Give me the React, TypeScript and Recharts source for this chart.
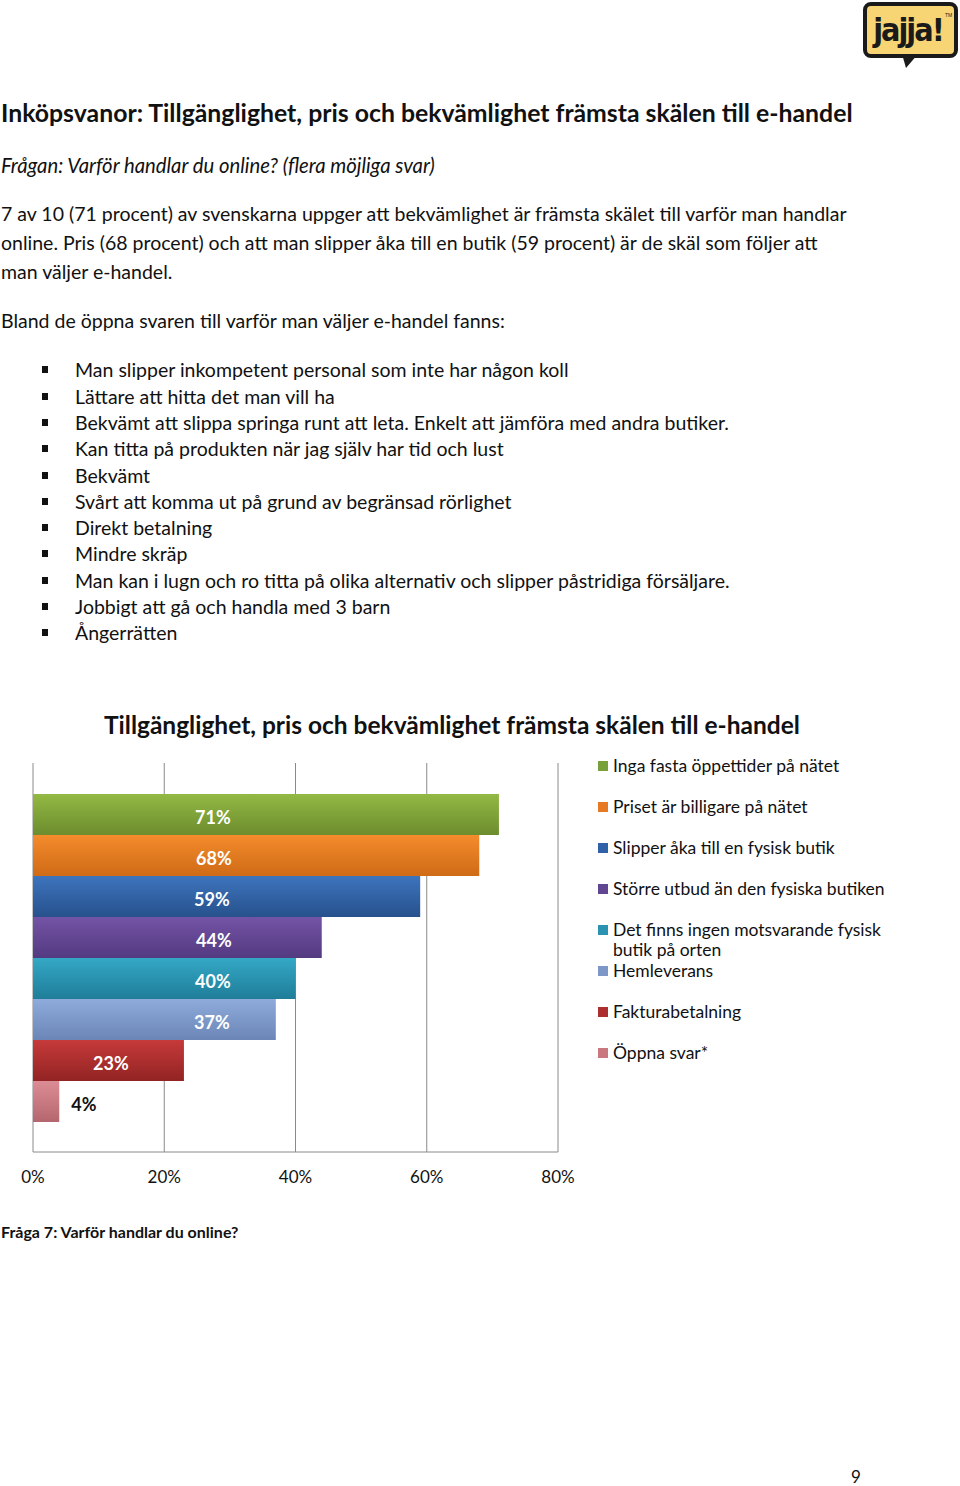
import { BarChart, Bar, XAxis, YAxis, CartesianGrid, Legend, LabelList } from "recharts";

const categories = ["Skäl"];
const seriesNames = [
  "Inga fasta öppettider på nätet",
  "Priset är billigare på nätet",
  "Slipper åka till en fysisk butik",
  "Större utbud än den fysiska butiken",
  "Det finns ingen motsvarande fysisk butik på orten",
  "Hemleverans",
  "Fakturabetalning",
  "Öppna svar*",
];
const seriesValues = [71, 68, 59, 44, 40, 37, 23, 4];
const xTicks = [0, 20, 40, 60, 80];

const openAnswers = [
  "Man slipper inkompetent personal som inte har någon koll",
  "Lättare att hitta det man vill ha",
  "Bekvämt att slippa springa runt att leta. Enkelt att jämföra med andra butiker.",
  "Kan titta på produkten när jag själv har tid och lust",
  "Bekvämt",
  "Svårt att komma ut på grund av begränsad rörlighet",
  "Direkt betalning",
  "Mindre skräp",
  "Man kan i lugn och ro titta på olika alternativ och slipper påstridiga försäljare.",
  "Jobbigt att gå och handla med 3 barn",
  "Ångerrätten",
];

// top / bottom colour of each bar's gradient
const barColors = [
  ["#93b944", "#6c8c2e"],
  ["#f48c2c", "#cf6a16"],
  ["#3d74bd", "#27518c"],
  ["#7453a6", "#533a80"],
  ["#34a8c6", "#1f7d98"],
  ["#8eabdc", "#6b86b6"],
  ["#c63a3a", "#922323"],
  ["#dc8c94", "#b4666e"],
];
const legendColors = ["#77a03a", "#e67a24", "#2f61a8", "#604690", "#2a93b2", "#7d98c8", "#ab2f2f", "#c97880"];
const labelPlace = [
  { position: "insideLeft", offset: 162, fill: "#fff" },
  { position: "insideLeft", offset: 163, fill: "#fff" },
  { position: "insideLeft", offset: 161, fill: "#fff" },
  { position: "insideLeft", offset: 163, fill: "#fff" },
  { position: "insideLeft", offset: 162, fill: "#fff" },
  { position: "insideLeft", offset: 161, fill: "#fff" },
  { position: "insideLeft", offset: 60, fill: "#fff" },
  { position: "right", offset: 12, fill: "#111" },
];

const keys = seriesNames.map((_, i) => `s${i}`);
const data = categories.map((name) => {
  const row: Record<string, string | number> = { name };
  keys.forEach((k, i) => (row[k] = seriesValues[i]));
  return row;
});

const font = "Lato, 'Noto Sans', sans-serif";
const text = (top: number, size: number, extra: React.CSSProperties = {}) => ({
  position: "absolute" as const,
  left: 1,
  top: top - size * 0.7,
  fontSize: size,
  lineHeight: `${size * 1.4}px`,
  whiteSpace: "nowrap" as const,
  color: "#111",
  ...extra,
});

function LegendBox() {
  return (
    <div style={{ fontFamily: font, fontSize: 17.5, color: "#111" }}>
      {seriesNames.map((name, i) => (
        <div key={name} style={{ height: 41, display: "flex", alignItems: "flex-start" }}>
          <span
            style={{
              width: 10,
              height: 10,
              marginTop: 6,
              marginRight: 5,
              flex: "none",
              background: legendColors[i],
            }}
          />
          <span style={{ width: 285, lineHeight: "20px", marginTop: 1 }}>{name}</span>
        </div>
      ))}
    </div>
  );
}

function Logo() {
  return (
    <svg width={98} height={70} style={{ position: "absolute", left: 862, top: 1 }}>
      <rect x={3} y={3} width={91} height={52} rx={6} fill="#f7d574" stroke="#1a1a1a" strokeWidth={4} />
      <polygon points="40,53 56,53 44,67" fill="#1a1a1a" />
      <text x={46} y={40} textAnchor="middle" fontFamily="'DejaVu Sans Condensed', 'DejaVu Sans', sans-serif" fontWeight="bold" fontSize={32} fill="#1a1a1a" letterSpacing={-2}>
        jajja!
      </text>
      <text x={83} y={16} fontFamily="sans-serif" fontSize={5} fill="#1a1a1a">TM</text>
    </svg>
  );
}

export default function App() {
  return (
    <div style={{ position: "absolute", left: 0, top: 0, width: 960, height: 1486, fontFamily: font, background: "#fff", overflow: "hidden" }}>
      <Logo />
      <div style={text(113, 24.8, { fontWeight: 700 })}>
        Inköpsvanor: Tillgänglighet, pris och bekvämlighet främsta skälen till e-handel
      </div>
      <div style={text(165, 20.3, { fontStyle: "italic" })}>
        Frågan: Varför handlar du online? (flera möjliga svar)
      </div>
      <div style={text(214, 19.5)}>
        7 av 10 (71 procent) av svenskarna uppger att bekvämlighet är främsta skälet till varför man handlar
      </div>
      <div style={text(243, 19.5)}>
        online. Pris (68 procent) och att man slipper åka till en butik (59 procent) är de skäl som följer att
      </div>
      <div style={text(272, 19.5)}>man väljer e-handel.</div>
      <div style={text(321, 19.5)}>Bland de öppna svaren till varför man väljer e-handel fanns:</div>
      {openAnswers.map((a, i) => (
        <div key={a} style={text(370 + i * 26.3, 19.5, { left: 75 })}>
          <span style={{ position: "absolute", left: -33, top: 10, width: 6, height: 7, background: "#111" }} />
          {a}
        </div>
      ))}

      <div style={text(725, 24.5, { left: 104, fontWeight: 700 })}>
        Tillgänglighet, pris och bekvämlighet främsta skälen till e-handel
      </div>

      <div style={{ position: "absolute", left: 0, top: 700 }}>
        <BarChart
          width={960}
          height={500}
          data={data}
          layout="vertical"
          margin={{ top: 63, right: 402, bottom: 18, left: 33 }}
          barCategoryGap="8%"
          barGap={0}
        >
          <defs>
            {barColors.map(([a, b], i) => (
              <linearGradient key={i} id={`g${i}`} x1="0" y1="0" x2="0" y2="1">
                <stop offset="0%" stopColor={a} />
                <stop offset="100%" stopColor={b} />
              </linearGradient>
            ))}
          </defs>
          <CartesianGrid horizontal={false} stroke="#8a8a8a" />
          <XAxis
            type="number"
            domain={[0, 80]}
            ticks={xTicks}
            tickFormatter={(v) => `${v}%`}
            tickLine={false}
            tickMargin={13}
            height={30}
            stroke="#8a8a8a"
            tick={{ fill: "#111", fontSize: 17, fontFamily: font }}
          />
          <YAxis type="category" dataKey="name" hide />
          <Legend
            layout="vertical"
            verticalAlign="middle"
            align="center"
            content={<LegendBox />}
            wrapperStyle={{ left: 598, right: "auto", top: 55, bottom: "auto", width: 330 }}
          />
          {keys.map((k, i) => (
            <Bar key={k} dataKey={k} name={seriesNames[i]} fill={`url(#g${i})`} isAnimationActive={false}>
              <LabelList
                dataKey={k}
                position={labelPlace[i].position as any}
                offset={labelPlace[i].offset}
                formatter={(v: any) => `${v}%`}
                fill={labelPlace[i].fill}
                dy={3}
                style={{ fontSize: 18, fontWeight: 700, fontFamily: font }}
              />
            </Bar>
          ))}
        </BarChart>
      </div>

      <div style={text(1232, 16, { fontWeight: 700 })}>Fråga 7: Varför handlar du online?</div>
      <div style={{ position: "absolute", left: 851, top: 1470, fontSize: 17, lineHeight: "14px", color: "#111" }}>9</div>
    </div>
  );
}
